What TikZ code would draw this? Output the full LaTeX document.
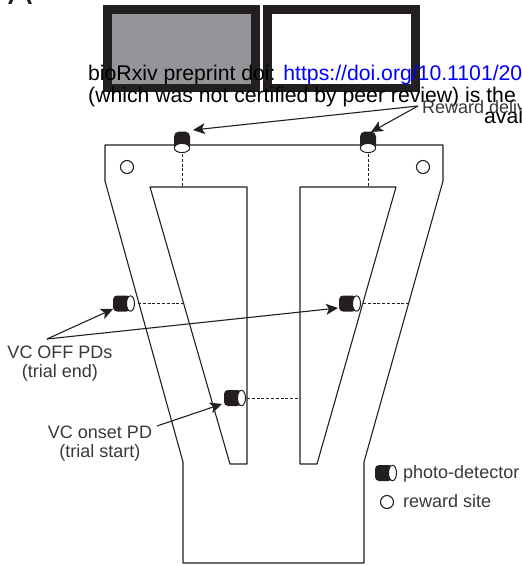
\documentclass[tikz,border=0pt]{standalone}
\usepackage{fontspec}
\setmainfont{Liberation Sans}
\usetikzlibrary{arrows.meta}
\definecolor{ink}{HTML}{231F20}
\definecolor{scr}{HTML}{939598}
\definecolor{lab}{HTML}{3A3839}
\newcommand{\hdet}[2]{%
  \fill[ink,rounded corners=4pt] (#1-11,#2-8) rectangle (#1+6.5,#2+8);
  \draw[ink,fill=white,line width=1pt] (#1+6.5,#2) ellipse (4pt and 7.7pt);}
\newcommand{\vdet}[2]{%
  \fill[ink,rounded corners=5pt] (#1-8,#2+3) -- (#1-8,#2-16.5) -- (#1+8,#2-16.5) -- (#1+8,#2+3) -- cycle;
  \draw[ink,fill=white,line width=1pt] (#1,#2) ellipse (7.7pt and 4.6pt);}
\tikzset{
  wall/.style={draw=ink,line width=1.1pt,line join=round},
  sensor/.style={ink,line width=1pt,dash pattern=on 3pt off 1.8pt},
  pointer/.style={ink,line width=1.1pt,-{Stealth[length=12pt,width=11pt,inset=3pt]}},
  lbl/.style={text=lab,font=\fontsize{18}{20}\selectfont,inner sep=0pt,anchor=base},
  pre/.style={text=black,font=\fontsize{21.2}{22}\selectfont,inner sep=0pt,anchor=base west},
  site/.style={draw=ink,fill=white,line width=1.1pt,circle,minimum size=13pt,inner sep=0pt},
}
\begin{document}
\begin{tikzpicture}[x=1pt,y=-1pt]
\useasboundingbox (0,0) rectangle (522,566);
\clip (0,0) rectangle (522,566);
\fill[white] (0,0) rectangle (522,566);
% monitors
\fill[ink] (103,5) rectangle (260,92);
\fill[scr] (111.5,13.5) rectangle (251,84);
\fill[ink] (263,5) rectangle (420,92);
\fill[white] (272,13.5) rectangle (411,84);
% track
\draw[wall] (105,145) -- (105,181) -- (183,462) -- (183,563) -- (364,563) -- (364,462) -- (443,181) -- (443,145) -- cycle;
\draw[wall] (150,187) -- (247,187) -- (247,464) -- (230,464) -- cycle;
\draw[wall] (300,187) -- (396,187) -- (317,464) -- (300,464) -- cycle;
% sensor lines
\draw[sensor] (182,154) -- (182,187);
\draw[sensor] (368,154) -- (368,187);
\draw[sensor] (138,303) -- (184,303);
\draw[sensor] (247,398) -- (300,398);
\draw[sensor] (363,303) -- (410,303);
% detectors
\vdet{182}{148}
\vdet{368}{148}
\hdet{124}{303.5}
\hdet{235}{398}
\hdet{350}{303.5}
\hdet{386}{473}
\node[site] (s1) at (127,167) {};
\node[site] (s2) at (423,167) {};
\node[site] (s3) at (387,502) {};
% texts
\node[font=\fontsize{36}{36}\selectfont,text=ink,inner sep=0pt,anchor=base west] (panel) at (8,4) {A};
\node[pre] (p1) at (88,80) {bioRxiv preprint doi: \textcolor{blue}{https://doi.org/10.1101/2020}};
\node[pre] (p2) at (88,102) {(which was not certified by peer review) is the};
\node[pre] (p3) at (484,123) {available};
\node[lbl,anchor=base west] (rw) at (422,113) {Reward delivery};
\node[lbl] (off1) at (60,358) {VC OFF PDs};
\node[lbl] (off2) at (60,377) {(trial end)};
\node[lbl] (on1) at (100,438) {VC onset PD};
\node[lbl] (on2) at (100,457) {(trial start)};
\node[lbl,anchor=base west] (l1) at (403,478) {photo-detector};
\node[lbl,anchor=base west] (l2) at (403,507) {reward site};
% connectors
\coordinate (rwtip) at (418,106);
\coordinate (offtip) at (47,339);
\coordinate (ontail) at (157,426);
\coordinate (v1) at (193,130);
\coordinate (v2) at (371,132);
\coordinate (d1) at (113,309);
\coordinate (d2) at (338,308);
\coordinate (d3) at (222,404);
\draw[pointer] (rwtip) -- (v1);
\draw[pointer] (rwtip) -- (v2);
\draw[pointer] (offtip) -- (d1);
\draw[pointer] (offtip) -- (d2);
\draw[pointer] (ontail) -- (d3);
\end{tikzpicture}
\end{document}
